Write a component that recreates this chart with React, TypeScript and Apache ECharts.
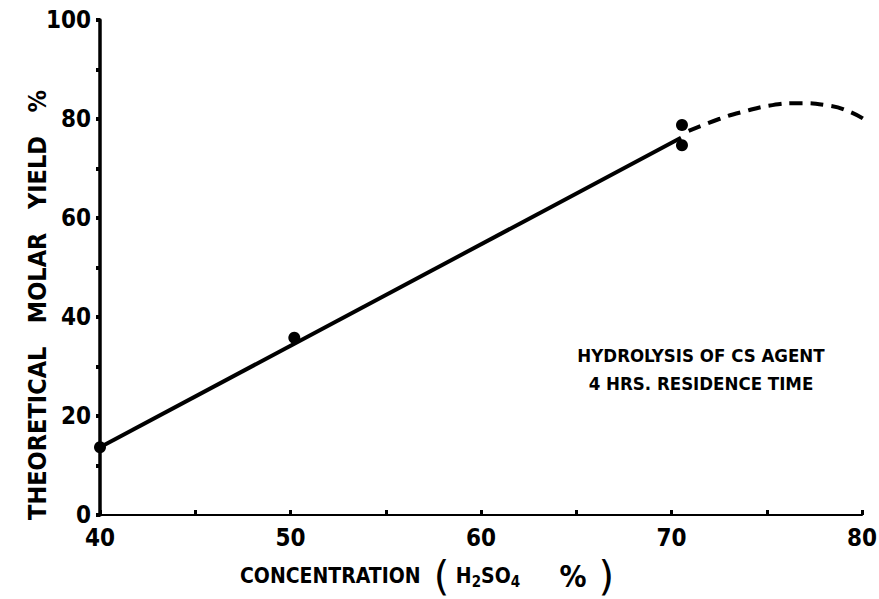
import React, { useEffect, useRef } from "react";
import * as echarts from "echarts";

const fitLine: number[][] = [[40, 13.7], [70.5, 76.2]];
const measured: number[][] = [[40, 13.7], [50.2, 35.8], [70.55, 78.8], [70.55, 74.7]];
const extrapolated: number[][] = [
  [70.9, 77.6], [72.5, 80.0], [73.7, 81.4], [75.3, 82.8], [76.7, 83.2],
  [78.1, 82.8], [79.4, 81.4], [80.4, 79.2],
];
const xLabelValues = [40, 50, 60, 70, 80];
const yLabelValues = [0, 20, 40, 60, 80, 100];
const noteLines = ["HYDROLYSIS OF CS AGENT", "4 HRS. RESIDENCE TIME"];
const yTitle = "THEORETICAL   MOLAR   YIELD   %";

const FONT = "'DejaVu Sans', sans-serif";
const CFONT = "'DejaVu Sans Condensed', 'DejaVu Sans', sans-serif";

export default function App() {
  const ref = useRef<HTMLDivElement>(null);
  useEffect(() => {
    document.body.style.margin = "0";
    const chart = echarts.init(ref.current!, null, { renderer: "svg" });
    chart.setOption({
      animation: false,
      backgroundColor: "#ffffff",
      grid: { left: 100, right: 17, top: 20, bottom: 84, containLabel: false, outerBoundsMode: "none" },
      xAxis: {
        type: "value",
        min: 40,
        max: 80,
        interval: 5,
        axisLine: { lineStyle: { color: "#000", width: 2 } },
        axisTick: { inside: true, length: 5, lineStyle: { color: "#000", width: 3 } },
        splitLine: { show: false },
        axisLabel: {
          margin: 11,
          color: "#000",
          fontFamily: CFONT,
          fontWeight: "bold",
          fontSize: 24,
          formatter: (v: number) => (xLabelValues.includes(v) ? String(v) : ""),
        },
      },
      yAxis: {
        type: "value",
        min: 0,
        max: 100,
        interval: 10,
        axisLine: { show: true, lineStyle: { color: "#000", width: 3.5 } },
        axisTick: { show: true, inside: false, length: 4, lineStyle: { color: "#000", width: 4 } },
        splitLine: { show: false },
        axisLabel: {
          margin: 9,
          color: "#000",
          fontFamily: CFONT,
          fontWeight: "bold",
          fontSize: 24,
          formatter: (v: number) => (yLabelValues.includes(v) ? String(v) : ""),
        },
      },
      graphic: [
        {
          type: "text",
          left: 240,
          top: 556,
          style: {
            text: "{t|CONCENTRATION}  {p|(}{t| H}{s|2}{t|SO}{s|4}{t|      }{q|%}{p|)}",
            fontFamily: CFONT,
            fontWeight: "bold",
            fontSize: 21,
            fill: "#000",
            rich: {
              p: { fontSize: 40, fontWeight: "normal", fontFamily: FONT, fill: "#000" },
              t: { fontSize: 21, fontWeight: "bold", fontFamily: CFONT, fill: "#000" },
              q: { fontSize: 30, fontWeight: "bold", fontFamily: CFONT, fill: "#000", padding: [0, 12, 0, 0] },
              s: { fontSize: 15, fontWeight: "bold", fontFamily: CFONT, fill: "#000", padding: [12, 0, 0, 0] },
            },
          },
        },
        {
          type: "text",
          x: 37,
          y: 305,
          rotation: Math.PI / 2,
          style: {
            text: yTitle,
            fontFamily: CFONT,
            fontWeight: "bold",
            fontSize: 25,
            fill: "#000",
            align: "center",
            verticalAlign: "middle",
          },
        },
        {
          type: "text",
          x: 701,
          y: 355,
          style: {
            text: noteLines[0],
            fontFamily: CFONT,
            fontWeight: "bold",
            fontSize: 18.5,
            fill: "#000",
            align: "center",
            verticalAlign: "middle",
          },
        },
        {
          type: "text",
          x: 701,
          y: 383,
          style: {
            text: noteLines[1],
            fontFamily: CFONT,
            fontWeight: "bold",
            fontSize: 18.5,
            fill: "#000",
            align: "center",
            verticalAlign: "middle",
          },
        },
      ],
      series: [
        {
          type: "line",
          data: fitLine,
          showSymbol: false,
          symbol: "none",
          lineStyle: { color: "#000", width: 4 },
        },
        {
          type: "line",
          data: extrapolated,
          smooth: true,
          clip: false,
          symbol: "none",
          lineStyle: { color: "#000", width: 4, type: [13, 8] },
        },
        {
          type: "scatter",
          data: measured,
          symbol: "circle",
          symbolSize: 12,
          itemStyle: { color: "#000", opacity: 1 },
        },
      ],
    });
    return () => chart.dispose();
  }, []);
  return <div ref={ref} style={{ width: 879, height: 599 }} />;
}
